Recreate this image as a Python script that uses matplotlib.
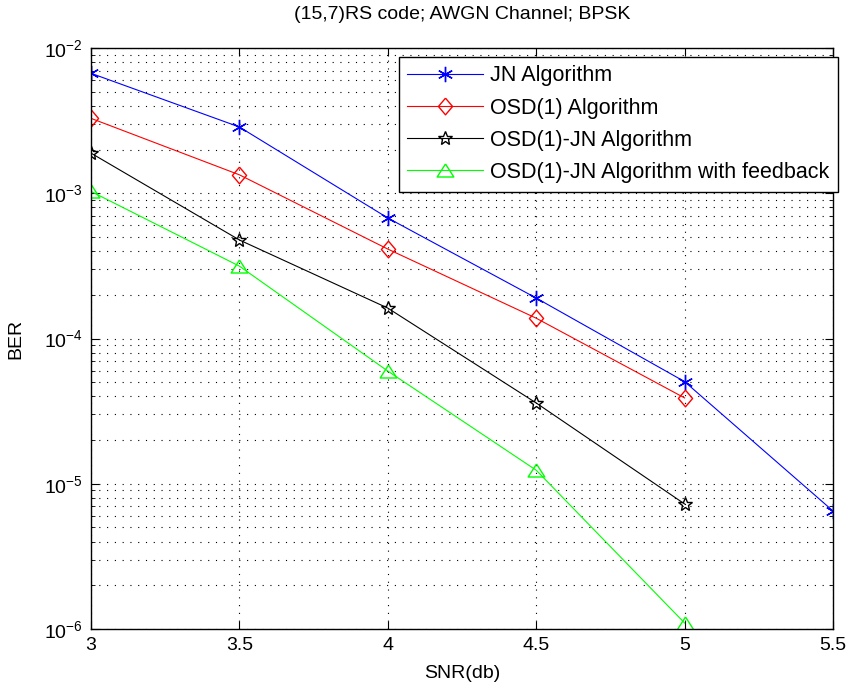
import numpy as np
import matplotlib
matplotlib.use("Agg")
import matplotlib.pyplot as plt
from matplotlib.ticker import LogLocator, FixedLocator

plt.rcParams['font.family'] = ['Liberation Sans', 'DejaVu Sans']
plt.rcParams['mathtext.fontset'] = 'custom'
plt.rcParams['mathtext.rm'] = 'Liberation Sans'
plt.rcParams['mathtext.it'] = 'Liberation Sans'

snr_jn = [3, 3.5, 4, 4.5, 5, 5.5]
ber_jn = [6.7e-3, 2.86e-3, 6.76e-4, 1.9e-4, 5.05e-5, 6.5e-6]

snr_osd = [3, 3.5, 4, 4.5, 5]
ber_osd = [3.28e-3, 1.34e-3, 4.13e-4, 1.38e-4, 3.9e-5]

snr_osdjn = [3, 3.5, 4, 4.5, 5]
ber_osdjn = [1.89e-3, 4.77e-4, 1.62e-4, 3.6e-5, 7.26e-6]

snr_fb = [3, 3.5, 4, 4.5, 5]
ber_fb = [1.03e-3, 3.15e-4, 5.97e-5, 1.24e-5, 1.1e-6]

xticks = [3, 3.5, 4, 4.5, 5, 5.5]
xtick_labels = ['3', '3.5', '4', '4.5', '5', '5.5']

# matlab-ish marker shapes
diamond = [(0, 1), (0.85, 0), (0, -1), (-0.85, 0), (0, 1)]
triangle = [(0, 0.78), (1, -0.78), (-1, -0.78), (0, 0.78)]

fig = plt.figure(figsize=(8.48, 6.91), dpi=100)
ax = fig.add_axes([0.1073, 0.0897, 0.875, 0.8408])

ax.semilogy(snr_jn, ber_jn, color='#0000ff', marker=(6, 2, 0), ms=11, mew=1,
            lw=0.8, label='JN Algorithm')
ax.semilogy(snr_osd, ber_osd, color='#ff0000', marker=diamond, ms=12, mfc='none',
            mew=1, lw=0.8, label='OSD(1) Algorithm')
ax.semilogy(snr_osdjn, ber_osdjn, color='black', marker='*', ms=10, mfc='none',
            mew=1, lw=0.8, label='OSD(1)-JN Algorithm')
ax.semilogy(snr_fb, ber_fb, color='#00ff00', marker=triangle, ms=12, mfc='none',
            mew=1, lw=0.8, label='OSD(1)-JN Algorithm with feedback')

ax.set_xlim(3, 5.5)
ax.set_ylim(1e-6, 1e-2)
ax.xaxis.set_major_locator(FixedLocator(xticks))
ax.set_xticklabels(xtick_labels)
ax.yaxis.set_major_locator(LogLocator(base=10, numticks=10))
ax.yaxis.set_minor_locator(LogLocator(base=10, subs=np.arange(2, 10), numticks=20))

ax.grid(True, which='major', axis='both', color='black', linestyle=(0, (1, 6)), lw=0.8)
ax.grid(True, which='minor', axis='y', color='black', linestyle=(0, (1, 6)), lw=0.8)

ax.tick_params(which='both', direction='in', top=True, right=True, labelsize=14)
ax.tick_params(which='major', length=6, pad=6)
ax.tick_params(which='minor', length=3)
for s in ax.spines.values():
    s.set_linewidth(1)

ax.set_title('(15,7)RS code; AWGN Channel; BPSK', fontsize=14, pad=21)
ax.set_xlabel('SNR(db)', fontsize=14, labelpad=8)
ax.set_ylabel('BER', fontsize=14, labelpad=14)

leg = ax.legend(loc='upper right', bbox_to_anchor=(1.007, 0.985), fontsize=15.5,
                fancybox=False, framealpha=1, edgecolor='black',
                borderaxespad=0, handlelength=3.5, labelspacing=0.52,
                borderpad=0.4, handletextpad=0.35)
leg.get_frame().set_linewidth(1)

fig.savefig('out.png', dpi=100)
